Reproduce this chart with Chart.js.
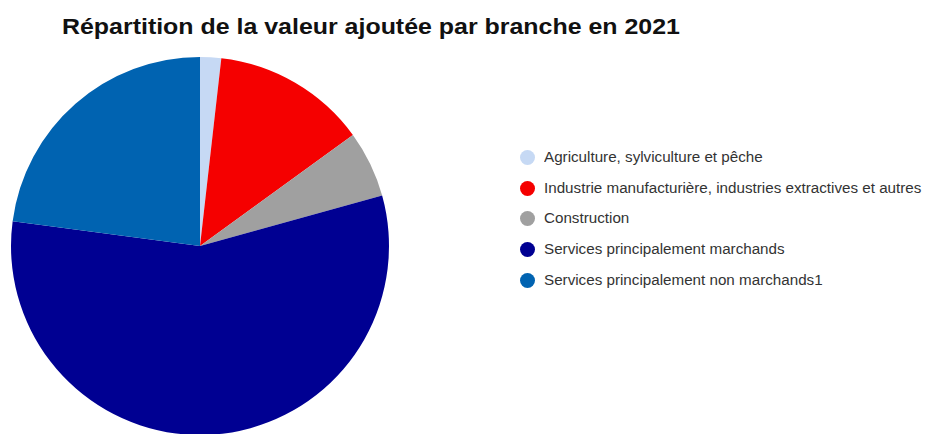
<!DOCTYPE html>
<html lang="fr">
<head>
<meta charset="utf-8">
<script src="https://cdn.jsdelivr.net/npm/chart.js@4"></script>
<style>
  html, body { margin: 0; padding: 0; background: #ffffff; }
  body { width: 927px; height: 434px; overflow: hidden; position: relative; font-family: "Liberation Sans", Arial, sans-serif; }
  #title { position: absolute; left: 62px; top: 15px; font-size: 22.5px; line-height: 23px; font-weight: bold; color: #111111; white-space: nowrap; transform: scaleX(1.108); transform-origin: left top; }
  #pieWrap { position: absolute; left: 0; top: 0; width: 400px; height: 480px; }
  #legend { position: absolute; left: 520px; top: 150px; list-style: none; margin: 0; padding: 0; }
  #legend li { height: 30.7px; display: flex; align-items: flex-start; white-space: nowrap; }
  #legend .dot { width: 15px; height: 15px; border-radius: 50%; margin-right: 8.5px; flex: none; }
  #legend .txt { font-size: 14px; line-height: 15px; color: #333333; transform: scaleX(1.085); transform-origin: left top; }
</style>
</head>
<body>
<div id="title">Répartition de la valeur ajoutée par branche en 2021</div>
<div id="pieWrap"><canvas id="pie" width="400" height="480"></canvas></div>
<ul id="legend"></ul>
<script>
// Valeur ajoutée par branche, 2021 (en % du total)
const branches = [
  "Agriculture, sylviculture et pêche",
  "Industrie manufacturière, industries extractives et autres",
  "Construction",
  "Services principalement marchands",
  "Services principalement non marchands1"
];
const parts = [1.8, 13.2, 5.7, 56.4, 22.9];
const couleurs = ["#c6d9f4", "#f50000", "#a0a0a0", "#000092", "#0063b1"];

const chart = new Chart(document.getElementById("pie"), {
  type: "pie",
  data: {
    labels: branches,
    datasets: [{ data: parts, backgroundColor: couleurs, borderWidth: 0 }]
  },
  options: {
    responsive: false,
    animation: false,
    layout: { padding: { left: 11, right: 11, top: 57, bottom: 45 } },
    plugins: { legend: { display: false }, title: { display: false }, tooltip: { enabled: false } }
  }
});

// Légende construite à partir des étiquettes du graphique
const ul = document.getElementById("legend");
chart.options.plugins.legend.labels.generateLabels(chart).forEach(item => {
  const li = document.createElement("li");
  const dot = document.createElement("span");
  dot.className = "dot";
  dot.style.background = item.fillStyle;
  const txt = document.createElement("span");
  txt.className = "txt";
  txt.textContent = item.text;
  li.appendChild(dot);
  li.appendChild(txt);
  ul.appendChild(li);
});
</script>
</body>
</html>
